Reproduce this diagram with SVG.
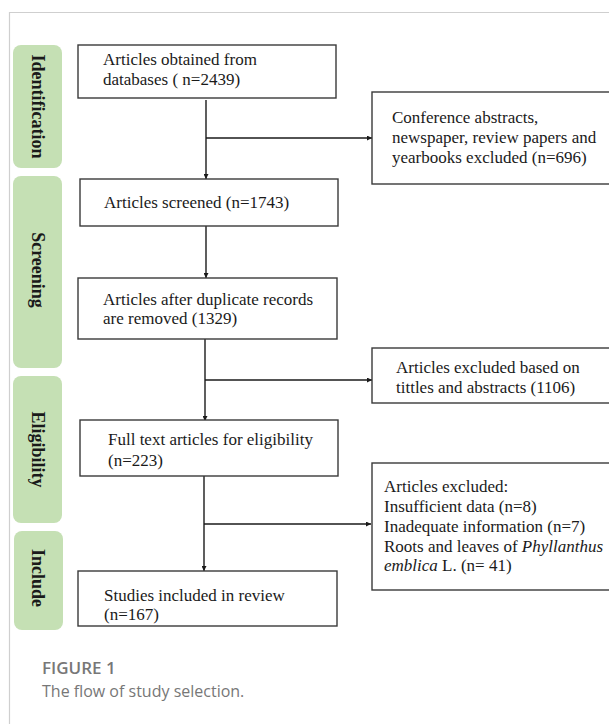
<svg xmlns="http://www.w3.org/2000/svg" width="609" height="724" viewBox="0 0 609 724">
<style>
.frame{stroke:#cfcfcf;stroke-width:1.2;fill:none}
.bar{fill:#c5e0b4}
.bar-t{font-family:"Liberation Serif",serif;font-weight:bold;font-size:18px;fill:#1a1a1a;text-anchor:middle;dominant-baseline:central}
.box{fill:#fff;stroke:#3a3a3a;stroke-width:1.4}
.t{font-family:"Liberation Serif",serif;font-size:17px;fill:#1a1a1a}
.conn{stroke:#1a1a1a;stroke-width:1.4;fill:none;marker-end:url(#ah)}
.cap1{font-family:"Open Sans",sans-serif;font-weight:600;font-size:17px;fill:#777}
.cap2{font-family:"Open Sans",sans-serif;font-size:16px;fill:#777}
</style>
<defs>
<marker id="ah" viewBox="0 0 10 10" refX="10" refY="5" markerWidth="5" markerHeight="5" markerUnits="userSpaceOnUse" orient="auto">
<path d="M0,0 L10,5 L0,10 z" fill="#1a1a1a"/>
</marker>
</defs>
<rect width="609" height="724" fill="#fff"/>
<path class="frame" d="M9.5,724 V12.5 H609"/>

<g id="stage-identification"><rect class="bar" x="13" y="45" width="49" height="123" rx="8"/><text class="bar-t" transform="translate(38,106.5) rotate(90)">Identification</text></g>
<g id="stage-screening"><rect class="bar" x="13" y="176" width="49" height="192" rx="8"/><text class="bar-t" transform="translate(38,270) rotate(90)">Screening</text></g>
<g id="stage-eligibility"><rect class="bar" x="13" y="376" width="49" height="147" rx="8"/><text class="bar-t" transform="translate(38,449.5) rotate(90)">Eligibility</text></g>
<g id="stage-include"><rect class="bar" x="14" y="531" width="49" height="99" rx="8"/><text class="bar-t" transform="translate(38,578) rotate(90)">Include</text></g>

<g id="connectors">
<path class="conn" d="M206,100 V179"/>
<path class="conn" d="M206,138 H372"/>
<path class="conn" d="M206,226 V278"/>
<path class="conn" d="M205,339 V421"/>
<path class="conn" d="M205,380 H372"/>
<path class="conn" d="M204,476 V571"/>
<path class="conn" d="M204,524 H371"/>
</g>

<g id="box-obtained"><rect class="box" x="78" y="45" width="258" height="53"/>
<text class="t" x="103" y="65">Articles obtained from</text>
<text class="t" x="103" y="85">databases ( n=2439)</text></g>

<g id="box-conference"><rect class="box" x="372" y="92" width="245" height="92"/>
<text class="t" x="392" y="123">Conference abstracts,</text>
<text class="t" x="392" y="143">newspaper, review papers and</text>
<text class="t" x="392" y="163">yearbooks excluded (n=696)</text></g>

<g id="box-screened"><rect class="box" x="80" y="179" width="258" height="47"/>
<text class="t" x="104" y="208">Articles screened (n=1743)</text></g>

<g id="box-duplicates"><rect class="box" x="78" y="278" width="259" height="61"/>
<text class="t" x="103" y="305">Articles after duplicate records</text>
<text class="t" x="103" y="324">are removed (1329)</text></g>

<g id="box-titles"><rect class="box" x="372" y="348" width="245" height="55"/>
<text class="t" x="396" y="373">Articles excluded based on</text>
<text class="t" x="396" y="393">tittles and abstracts (1106)</text></g>

<g id="box-fulltext"><rect class="box" x="80" y="420" width="258" height="56"/>
<text class="t" x="108" y="445">Full text articles for eligibility</text>
<text class="t" x="108" y="466">(n=223)</text></g>

<g id="box-excluded"><rect class="box" x="372" y="463" width="245" height="127"/>
<text class="t" x="384" y="492">Articles excluded:</text>
<text class="t" x="384" y="512">Insufficient data (n=8)</text>
<text class="t" x="384" y="532">Inadequate information (n=7)</text>
<text class="t" x="384" y="552">Roots and leaves of <tspan font-style="italic">Phyllanthus</tspan></text>
<text class="t" x="384" y="571"><tspan font-style="italic">emblica</tspan> L. (n= 41)</text></g>

<g id="box-included"><rect class="box" x="78" y="571" width="259" height="55"/>
<text class="t" x="104" y="601">Studies included in review</text>
<text class="t" x="104" y="620">(n=167)</text></g>

<text class="cap1" x="42" y="674">FIGURE 1</text>
<text class="cap2" x="42" y="697">The flow of study selection.</text>
</svg>
